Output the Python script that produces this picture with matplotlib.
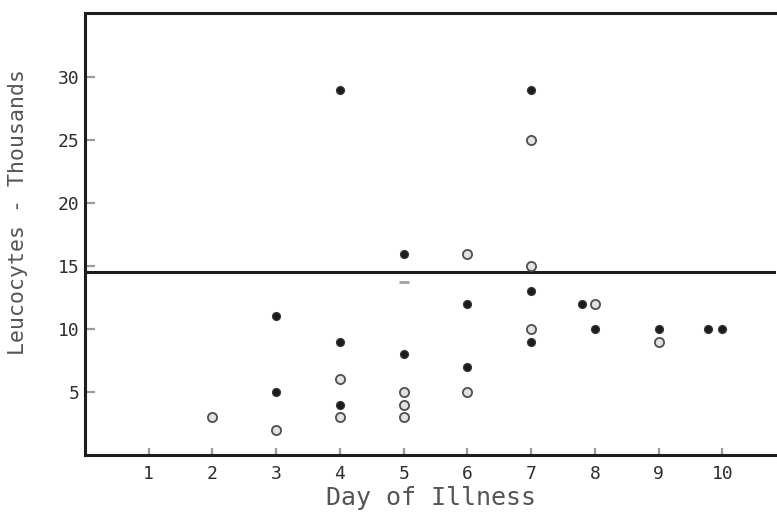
import matplotlib
matplotlib.use("Agg")
import matplotlib.pyplot as plt

# leucocyte counts (thousands) by day of illness
filled_day = [3, 3, 4, 4, 4, 5, 5, 6, 6, 7, 7, 7, 7.8, 8, 9, 9.78, 10]
filled_val = [11, 5, 29, 9, 4, 16, 8, 12, 7, 29, 13, 9, 12, 10, 10, 10, 10]

open_day = [2, 3, 4, 4, 5, 5, 5, 6, 6, 7, 7, 7, 8, 9]
open_val = [3, 2, 6, 3, 5, 4, 3, 16, 5, 25, 15, 10, 12, 9]

faint_day = [5]
faint_val = [13.7]

threshold = 14.5
day_ticks = list(range(1, 11))
count_ticks = [5, 10, 15, 20, 25, 30]

font = "DejaVu Sans Mono"

fig = plt.figure(figsize=(7.77, 5.23), dpi=100)
ax = fig.add_axes([85 / 777, 68 / 523, 691 / 777, 442 / 523])

ax.axhline(threshold, color="#1e1e1e", lw=2.2, zorder=1)

ax.plot(open_day, open_val, "o", ms=6.6, mfc="#e2e2e2", mec="#4e4e4e",
        mew=1.3, zorder=3)
ax.plot(filled_day, filled_val, "o", ms=5.8, mfc="#1c1c1c", mec="#3a3a3a",
        mew=0.8, zorder=3)
ax.plot(faint_day, faint_val, "_", ms=7, mec="#a0a0a0", mew=2, zorder=2)

ax.set_xlim(0, 10.84)
ax.set_ylim(0, 35.1)
ax.set_xticks(day_ticks)
ax.set_yticks(count_ticks)
ax.set_xticklabels([str(d) for d in day_ticks], fontfamily=font, fontsize=13,
                   color="#2e2e2e")
ax.set_yticklabels([str(v) for v in count_ticks], fontfamily=font, fontsize=13,
                   color="#2e2e2e")
ax.tick_params(axis="x", direction="in", length=5, width=1.6,
               color="#9a9a9a", pad=7)
ax.tick_params(axis="y", direction="in", length=7, width=1.6,
               color="#9a9a9a", pad=4)

for side in ("left", "bottom", "top"):
    ax.spines[side].set_linewidth(2.2)
    ax.spines[side].set_color("#1e1e1e")
ax.spines["right"].set_visible(False)

ax.set_xlabel("Day of Illness", fontfamily=font, fontsize=18, color="#555555",
              labelpad=2)
ax.set_ylabel("Leucocytes - Thousands", fontfamily=font, fontsize=15.5,
              color="#555555")
ax.yaxis.set_label_coords(-0.083, 0.55)

fig.savefig("out.png", dpi=100, facecolor="white")
